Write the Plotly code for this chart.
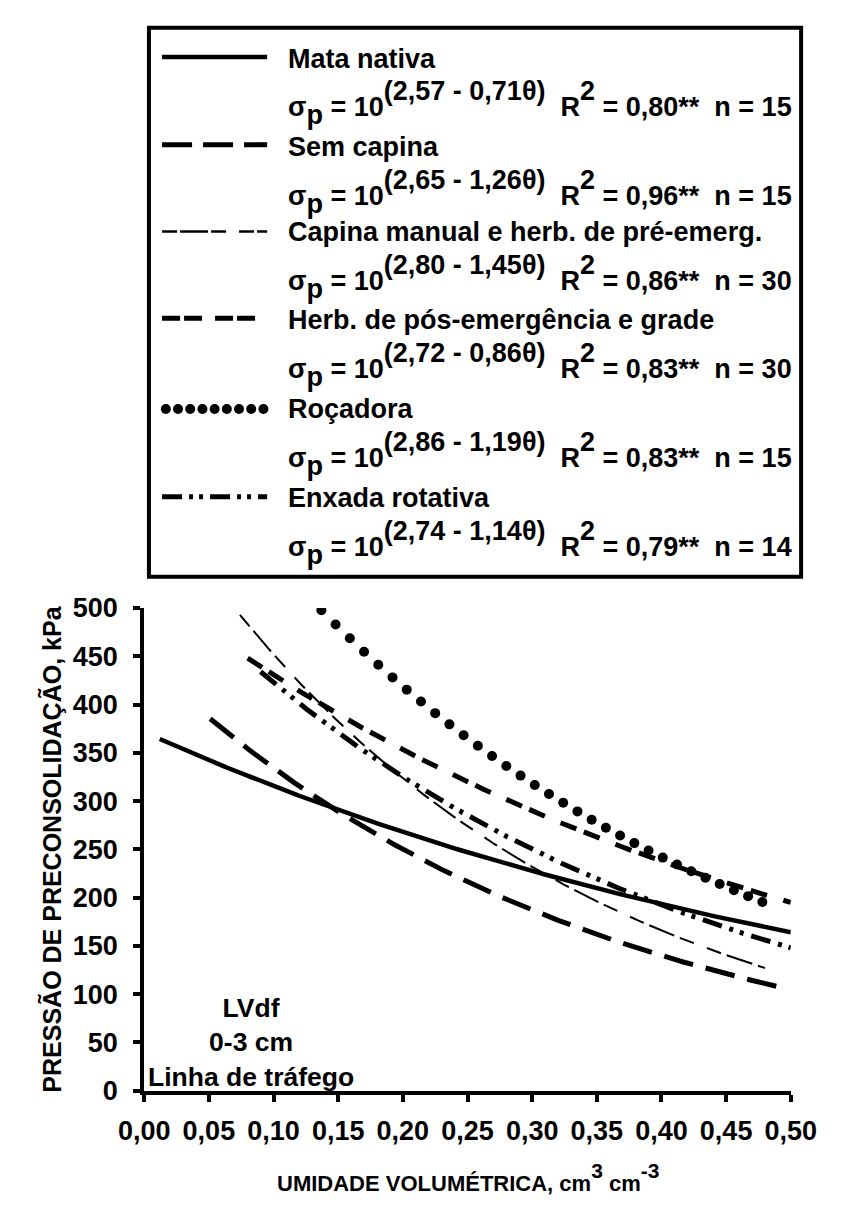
import numpy as np
import plotly.graph_objects as go

W, H = 844, 1212
FONT = "Liberation Sans, Arial, sans-serif"

# ---- data -------------------------------------------------------------
series_names = [
    "Mata nativa",
    "Sem capina",
    "Capina manual e herb. de pré-emerg.",
    "Herb. de pós-emergência e grade",
    "Roçadora",
    "Enxada rotativa",
]
coef_a = [2.57, 2.65, 2.80, 2.72, 2.86, 2.74]      # intercept of log10(sigma_p)
coef_b = [0.71, 1.26, 1.45, 0.86, 1.19, 1.14]      # slope on theta
r2_text = ["0,80", "0,96", "0,86", "0,83", "0,83", "0,79"]
n_obs = [15, 15, 30, 30, 15, 14]
theta_start = [0.012, 0.051, 0.074, 0.080, 0.137, 0.090]
theta_end = [0.500, 0.494, 0.480, 0.500, 0.480, 0.500]

x_tick_vals = [0.00, 0.05, 0.10, 0.15, 0.20, 0.25, 0.30, 0.35, 0.40, 0.45, 0.50]
x_tick_text = ["0,00", "0,05", "0,10", "0,15", "0,20", "0,25",
               "0,30", "0,35", "0,40", "0,45", "0,50"]
y_tick_vals = [0, 50, 100, 150, 200, 250, 300, 350, 400, 450, 500]

# ---- styles -----------------------------------------------------------
line_styles = [
    dict(width=4.5, dash="solid"),
    dict(width=5, dash="30px,13px"),
    dict(width=2, dash="15px,6px,27px,6px,15px,14px"),
    dict(width=5, dash="17px,8px,17px,17px"),
    None,  # dotted series drawn with markers
    dict(width=5, dash="20px,8px,4px,7px,4px,8px"),
]
key_styles = [
    dict(width=4.5, dash="solid"),
    dict(width=5, dash="30px,11px"),
    dict(width=2.5, dash="15px,3px,28px,3px,15px,13px"),
    dict(width=5, dash="18px,4px,18px,13px"),
    None,
    dict(width=5, dash="20px,7px,4px,6px,4px,7px"),
]
dot_step = 0.011

# plot area in pixels
PX_L, PX_R, PX_T, PX_B = 126, 815, 608, 1103

fig = go.Figure()

for i, name in enumerate(series_names):
    if line_styles[i] is None:
        th = np.arange(theta_start[i], theta_end[i] + 1e-9, dot_step)
        fig.add_trace(go.Scatter(
            x=th, y=10 ** (coef_a[i] - coef_b[i] * th), mode="markers",
            marker=dict(size=10, color="black"), name=name,
            showlegend=False, hoverinfo="skip", xaxis="x", yaxis="y"))
    else:
        th = np.linspace(theta_start[i], theta_end[i], 300)
        fig.add_trace(go.Scatter(
            x=th, y=10 ** (coef_a[i] - coef_b[i] * th), mode="lines",
            line=dict(color="black", **line_styles[i]), name=name,
            showlegend=False, hoverinfo="skip", xaxis="x", yaxis="y"))

# ---- key (drawn on a hidden pixel-unit axis pair) ---------------------
KEY_X0, KEY_X1, KEY_TEXT_X = 145, 257, 277
key_name_y = [45, 135, 223, 313, 404, 495]
key_eq_y = [90, 181, 269, 359, 450, 541]
key_line_y = [43, 133, 222, 311, 404, 494]
KEY_FONT = 27

for i, name in enumerate(series_names):
    if key_styles[i] is None:
        kx = np.linspace(KEY_X0 + 4, KEY_X1 - 4, 9)
        fig.add_trace(go.Scatter(
            x=kx, y=[key_line_y[i]] * len(kx), mode="markers",
            marker=dict(size=10, color="black"), showlegend=False,
            hoverinfo="skip", xaxis="x2", yaxis="y2"))
    else:
        fig.add_trace(go.Scatter(
            x=[KEY_X0, KEY_X1], y=[key_line_y[i]] * 2, mode="lines",
            line=dict(color="black", **key_styles[i]), showlegend=False,
            hoverinfo="skip", xaxis="x2", yaxis="y2"))

annotations = []
BIG = f'<span style="font-size:{KEY_FONT / 0.7:.1f}px">'
for i, name in enumerate(series_names):
    annotations.append(dict(
        x=KEY_TEXT_X, y=key_name_y[i], xref="x2", yref="y2", text=name,
        showarrow=False, xanchor="left", yanchor="middle",
        font=dict(family=FONT, size=KEY_FONT, color="black", weight="bold")))
    a_txt = f"{coef_a[i]:.2f}".replace(".", ",")
    b_txt = f"{coef_b[i]:.2f}".replace(".", ",")
    eq = (f"σ{BIG}<sub>p</sub></span> = 10{BIG}<sup>({a_txt} - {b_txt}θ)</sup></span>"
          f"\u00a0 R{BIG}<sup>2</sup></span> = {r2_text[i]}**\u00a0 n = {n_obs[i]}")
    annotations.append(dict(
        x=KEY_TEXT_X, y=key_eq_y[i], xref="x2", yref="y2", text=eq,
        showarrow=False, xanchor="left", yanchor="middle",
        font=dict(family=FONT, size=KEY_FONT, color="black", weight="bold")))

# site / layer note inside the plot
annotations.append(dict(
    x=240, y=1054, xref="x2", yref="y2",
    text="LVdf<br>0-3 cm<br>Linha de tráfego", showarrow=False,
    xanchor="center", yanchor="middle", align="center",
    font=dict(family=FONT, size=26.5, color="black", weight="bold")))

# axis titles
annotations.append(dict(
    x=27, y=(PX_T + PX_B) / 2, xref="x2", yref="y2",
    text="PRESSÃO DE PRECONSOLIDAÇÃO, kPa", textangle=-90, showarrow=False,
    xanchor="center", yanchor="middle",
    font=dict(family=FONT, size=25, color="black", weight="bold")))
annotations.append(dict(
    x=(PX_L + PX_R) / 2, y=1192, xref="x2", yref="y2",
    text='UMIDADE VOLUMÉTRICA, cm<span style="font-size:30px"><sup>3</sup></span>'
         ' cm<span style="font-size:30px"><sup>-3</sup></span>',
    showarrow=False, xanchor="center", yanchor="middle",
    font=dict(family=FONT, size=22, color="black", weight="bold")))

axis_common = dict(
    showgrid=False, zeroline=False, showline=True, linecolor="black",
    linewidth=4, ticks="outside", ticklen=7, tickwidth=3.5, tickcolor="black",
    tickfont=dict(family=FONT, size=27, color="black", weight="bold"),
)

fig.update_layout(
    width=W, height=H,
    margin=dict(l=0, r=0, t=0, b=0),
    paper_bgcolor="white", plot_bgcolor="rgba(0,0,0,0)",
    xaxis=dict(domain=[PX_L / W, PX_R / W], range=[0, 0.5], anchor="y",
               tickvals=x_tick_vals, ticktext=x_tick_text,
               ticklabelstandoff=6, **axis_common),
    yaxis=dict(domain=[1 - PX_B / H, 1 - PX_T / H], range=[0, 500], anchor="x",
               tickvals=y_tick_vals, ticklabelstandoff=10, **axis_common),
    xaxis2=dict(domain=[0, 1], range=[0, W], visible=False, anchor="y2"),
    yaxis2=dict(domain=[0, 1], range=[H, 0], visible=False, anchor="x2"),
    shapes=[dict(type="rect", xref="x2", yref="y2", x0=131, x1=826, y0=13, y1=576,
                 line=dict(color="black", width=4), fillcolor="rgba(0,0,0,0)")],
    annotations=annotations,
    showlegend=False,
)

fig.write_html("out.html")
